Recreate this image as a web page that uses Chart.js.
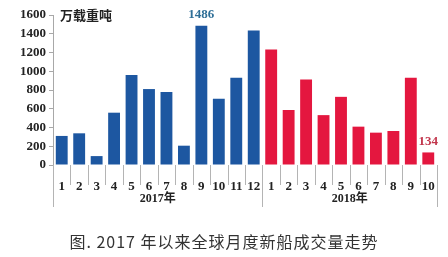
<!DOCTYPE html>
<html lang="zh">
<head>
<meta charset="UTF-8">
<title>2017年以来全球月度新船成交量走势</title>
<script src="https://cdn.jsdelivr.net/npm/chart.js"></script>
<style>
    body { margin: 0; background: #fff; }
    #wrap { position: relative; width: 448px; height: 257px; }
    #caption { position: absolute; left: 0; top: 229px; width: 448px; text-align: center;
        font-family: "Noto Sans CJK SC", sans-serif; font-size: 16px; color: #333; letter-spacing: 1px; }
</style>
</head>
<body>
<div id="wrap">
    <canvas id="shipChart" width="448" height="257"></canvas>
    <div id="caption">图. 2017 年以来全球月度新船成交量走势</div>
</div>
<script>
// 月份标签
const months2017 = ["1","2","3","4","5","6","7","8","9","10","11","12"];
const months2018 = ["1","2","3","4","5","6","7","8","9","10"];
const groupLabels = ["2017年", "2018年"];
// 新船成交量 (万载重吨)
const values2017 = [310, 338, 95, 558, 960, 810, 780, 206, 1486, 707, 931, 1434];
const values2018 = [1232, 587, 912, 532, 727, 409, 345, 363, 931, 134];
const yTicks = [0, 200, 400, 600, 800, 1000, 1200, 1400, 1600];

const blue = "#1d57a1";
const red = "#e4173f";
const labels = months2017.concat(months2018);
const values = values2017.concat(values2018);
const colors = values2017.map(() => blue).concat(values2018.map(() => red));

const tickFont = { family: "Liberation Serif", size: 13, weight: "bold" };

const extras = {
    id: "extras",
    afterDatasetsDraw(chart) {
        const ctx = chart.ctx;
        const x = chart.scales.x, y = chart.scales.y;
        const bottom = chart.chartArea.bottom;
        const half = (x.getPixelForValue(1) - x.getPixelForValue(0)) / 2;
        ctx.save();
        // separators
        ctx.strokeStyle = "#b4b4b4";
        ctx.lineWidth = 1;
        for (let i = 0; i <= labels.length; i++) {
            const px = Math.round(x.getPixelForValue(0) - half + i * half * 2) + 0.5;
            const isGroup = i === 0 || i === months2017.length || i === labels.length;
            ctx.beginPath();
            ctx.moveTo(px, bottom);
            ctx.lineTo(px, isGroup ? bottom + 42 : bottom + 20);
            ctx.stroke();
        }
        // group labels
        ctx.fillStyle = "#222";
        ctx.font = "bold 12px 'Liberation Serif', 'Noto Sans CJK SC'";
        ctx.textAlign = "center";
        ctx.textBaseline = "middle";
        const c1 = (x.getPixelForValue(0) + x.getPixelForValue(months2017.length - 1)) / 2;
        const c2 = (x.getPixelForValue(months2017.length) + x.getPixelForValue(labels.length - 1)) / 2;
        ctx.fillText(groupLabels[0], c1, bottom + 34);
        ctx.fillText(groupLabels[1], c2, bottom + 34);
        // unit
        ctx.textAlign = "left";
        ctx.font = "bold 13px 'Noto Sans CJK SC'";
        ctx.fillText("万载重吨", chart.chartArea.left + 7, y.getPixelForValue(1600));
        // value labels on peak and last bar
        ctx.textAlign = "center";
        ctx.textBaseline = "bottom";
        const meta = chart.getDatasetMeta(0);
        const iPeak = values2017.indexOf(Math.max(...values2017));
        const iLast = labels.length - 1;
        ctx.font = "bold 13px 'Liberation Serif'";
        ctx.fillStyle = "#2f6f97";
        ctx.fillText(String(values[iPeak]), meta.data[iPeak].x, meta.data[iPeak].y - 5);
        ctx.fillStyle = "#c2364c";
        ctx.fillText(String(values[iLast]), meta.data[iLast].x, meta.data[iLast].y - 4);
        ctx.restore();
    }
};

new Chart(document.getElementById("shipChart"), {
    type: "bar",
    data: {
        labels: labels,
        datasets: [{
            data: values,
            backgroundColor: colors,
            barPercentage: 0.68,
            categoryPercentage: 1
        }]
    },
    options: {
        responsive: false,
        animation: false,
        layout: { padding: { top: 15, right: 11, left: 0, bottom: 0 } },
        plugins: { legend: { display: false }, tooltip: { enabled: false } },
        scales: {
            x: {
                grid: { display: false },
                border: { display: false },
                ticks: { font: tickFont, color: "#222", padding: 6, maxRotation: 0, autoSkip: false },
                afterFit(scale) { scale.height = 92; }
            },
            y: {
                min: 0, max: 1600,
                afterBuildTicks(scale) { scale.ticks = yTicks.map(v => ({ value: v })); },
                grid: { drawOnChartArea: false, tickLength: 4, color: "#a8a8a8" },
                border: { color: "#a8a8a8" },
                ticks: { font: tickFont, color: "#222", padding: 3, callback: v => String(v) },
                afterFit(scale) { scale.width = 53; }
            }
        }
    },
    plugins: [extras]
});
</script>
</body>
</html>
